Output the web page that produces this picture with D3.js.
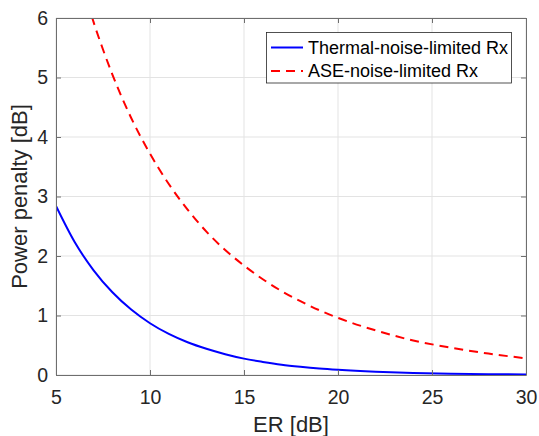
<!DOCTYPE html>
<html><head><meta charset="utf-8">
<script src="https://cdn.jsdelivr.net/npm/d3@7"></script>
<style>html,body{margin:0;padding:0;background:#fff;}svg{display:block;}</style>
</head><body>
<script>
// Data
const erThermal = [5,6,7,8,9,10,11,12,13,14,15,16,17,18,19,20,22,24,26,28,30];
const thermalPenalty = [2.84,2.23,1.76,1.39,1.10,0.87,0.69,0.55,0.44,0.35,0.275,0.22,0.173,0.138,0.109,0.087,0.055,0.035,0.022,0.014,0.009];
const erASE = [6.9,7,7.5,8,9,10,11,12,13,14,15,16,17,18,19,20,22,24,26,28,30];
const asePenalty = [6.03,5.93,5.47,5.05,4.32,3.72,3.21,2.78,2.41,2.10,1.84,1.61,1.41,1.24,1.09,0.96,0.75,0.58,0.46,0.36,0.28];
const xTicks = [5,10,15,20,25,30];
const yTicks = [0,1,2,3,4,5,6];
const seriesNames = ["Thermal-noise-limited Rx","ASE-noise-limited Rx"];

(function(){
const W = 539, H = 436;
const m = {left:56, right:W-526, top:18, bottom:H-375};
const font = "'Liberation Sans', Arial, sans-serif";
const txt = "#262626";

const svg = d3.select("body").append("svg").attr("width",W).attr("height",H);
const x = d3.scaleLinear().domain([5,30]).range([m.left, W-m.right]);
const y = d3.scaleLinear().domain([0,6]).range([H-m.bottom, m.top]);

// grid
const g = svg.append("g");
g.selectAll(".gx").data(xTicks).enter().append("line")
  .attr("x1",d=>x(d)).attr("x2",d=>x(d)).attr("y1",y(0)).attr("y2",y(6))
  .attr("stroke","#e3e3e3").attr("stroke-width",1);
g.selectAll(".gy").data(yTicks).enter().append("line")
  .attr("y1",d=>y(d)).attr("y2",d=>y(d)).attr("x1",x(5)).attr("x2",x(30))
  .attr("stroke","#e3e3e3").attr("stroke-width",1);

// clip
svg.append("clipPath").attr("id","clip").append("rect")
  .attr("x",x(5)).attr("y",y(6)).attr("width",x(30)-x(5)).attr("height",y(0)-y(6));

const line = d3.line().x(d=>x(d[0])).y(d=>y(d[1])).curve(d3.curveMonotoneX);
svg.append("path").attr("clip-path","url(#clip)")
  .datum(erThermal.map((e,i)=>[e,thermalPenalty[i]]))
  .attr("d",line).attr("fill","none").attr("stroke","#0000ff").attr("stroke-width",2);
svg.append("path").attr("clip-path","url(#clip)")
  .datum(erASE.map((e,i)=>[e,asePenalty[i]]))
  .attr("d",line).attr("fill","none").attr("stroke","#ff0000").attr("stroke-width",2)
  .attr("stroke-dasharray","9,6");

// axes (inward ticks on all sides)
const axCol = "#6e6e6e";
const fmt = d3.format("d");
const ax = svg.append("g").attr("font-family",font);
const axB = ax.append("g").attr("transform",`translate(0,${y(0)})`)
  .call(d3.axisBottom(x).tickValues(xTicks).tickFormat(fmt).tickSizeInner(-5).tickSizeOuter(0).tickPadding(15));
const axT = ax.append("g").attr("transform",`translate(0,${y(6)})`)
  .call(d3.axisTop(x).tickValues(xTicks).tickSizeInner(-5).tickSizeOuter(0).tickFormat(""));
const axL = ax.append("g").attr("transform",`translate(${x(5)},0)`)
  .call(d3.axisLeft(y).tickValues(yTicks).tickFormat(fmt).tickSizeInner(-5).tickSizeOuter(0).tickPadding(8));
const axR = ax.append("g").attr("transform",`translate(${x(30)},0)`)
  .call(d3.axisRight(y).tickValues(yTicks).tickSizeInner(-5).tickSizeOuter(0).tickFormat(""));
[axB,axT,axL,axR].forEach(a=>{
  a.select(".domain").attr("stroke",axCol).attr("stroke-width",1);
  a.selectAll(".tick line").attr("stroke",axCol);
  a.selectAll("text").attr("fill",txt).attr("font-size",19.5).attr("font-family",font);
});
axB.selectAll("text").attr("dy","0.71em");

// axis titles
svg.append("text").attr("x",291).attr("y",432).attr("text-anchor","middle")
  .attr("font-family",font).attr("font-size",22).attr("fill",txt).text("ER [dB]");
svg.append("text").attr("transform",`translate(27,${(y(0)+y(6))/2}) rotate(-90)`)
  .attr("text-anchor","middle").attr("font-family",font).attr("font-size",22).attr("fill",txt)
  .text("Power penalty [dB]");

// legend
const lg = svg.append("g");
lg.append("rect").attr("x",266.5).attr("y",32.5).attr("width",245).attr("height",50.5)
  .attr("fill","#fff").attr("stroke","#262626").attr("stroke-width",0.8);
const rows = [{c:"#0000ff",dash:null,yc:47.5},{c:"#ff0000",dash:"9,6",yc:71}];
rows.forEach((r,i)=>{
  lg.append("line").attr("x1",271).attr("x2",303).attr("y1",r.yc).attr("y2",r.yc)
    .attr("stroke",r.c).attr("stroke-width",2).attr("stroke-dasharray",r.dash);
  lg.append("text").attr("x",308).attr("y",r.yc+6.3).attr("font-family",font)
    .attr("font-size",18).attr("fill","#000").text(seriesNames[i]);
});
})();
</script>
</body></html>
